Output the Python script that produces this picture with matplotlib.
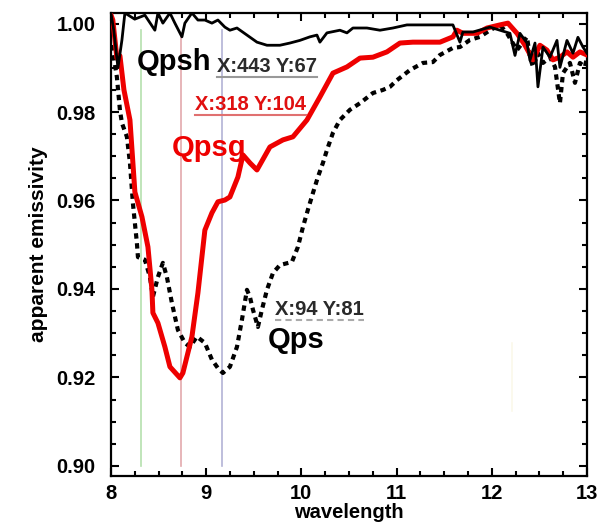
import matplotlib
matplotlib.use("Agg")
import matplotlib.pyplot as plt
from matplotlib.ticker import MultipleLocator, FormatStrFormatter
from matplotlib.lines import Line2D

plt.rcParams['font.family'] = ['Liberation Sans', 'DejaVu Sans']
plt.rcParams['font.weight'] = 'bold'

# Qpsg (red, thick solid)
qpsg_x = [8.00, 8.02, 8.063, 8.095, 8.137, 8.20, 8.252, 8.326, 8.389, 8.431, 8.441, 8.494,
          8.567, 8.62, 8.725, 8.756, 8.851, 8.914, 8.987, 9.061, 9.124, 9.197, 9.25, 9.334,
          9.387, 9.46, 9.534, 9.67, 9.807, 9.912, 10.059, 10.195, 10.332, 10.479, 10.616,
          10.752, 10.899, 11.036, 11.172, 11.319, 11.456, 11.592, 11.634, 11.697, 11.844,
          11.95, 12.086, 12.17, 12.265, 12.349, 12.433, 12.506, 12.58, 12.643, 12.716,
          12.79, 12.853, 12.926, 13.0]
qpsg_y = [1.002, 1.0008, 0.9922, 0.9927, 0.985, 0.9782, 0.9619, 0.9563, 0.9495, 0.9398,
          0.9346, 0.9323, 0.9269, 0.9224, 0.9199, 0.921, 0.9292, 0.9391, 0.9533, 0.9572,
          0.9597, 0.9601, 0.9608, 0.9653, 0.9703, 0.9685, 0.9669, 0.9721, 0.9737, 0.9744,
          0.9782, 0.9834, 0.9888, 0.9902, 0.9922, 0.9924, 0.9936, 0.9956, 0.9958, 0.9958,
          0.9958, 0.997, 0.9985, 0.9978, 0.9978, 0.999, 0.9997, 1.0001, 0.9978, 0.9951,
          0.9918, 0.9951, 0.994, 0.9918, 0.9924, 0.9936, 0.9924, 0.9936, 0.9929]

# Qpsh (black, thin solid)
qpsh_x = [8.0, 8.03, 8.074, 8.116, 8.147, 8.25, 8.357, 8.462, 8.494, 8.546, 8.62, 8.672,
          8.746, 8.777, 8.851, 8.914, 8.987, 9.061, 9.124, 9.197, 9.25, 9.324, 9.429, 9.534,
          9.639, 9.775, 9.88, 9.985, 10.09, 10.164, 10.195, 10.269, 10.405, 10.479, 10.542,
          10.689, 10.826, 10.962, 11.109, 11.246, 11.487, 11.592, 11.666, 11.697, 11.803,
          11.981, 12.086, 12.191, 12.244, 12.296, 12.37, 12.401, 12.454, 12.485, 12.538,
          12.611, 12.685, 12.716, 12.79, 12.853, 12.905, 12.958, 13.0]
qpsh_y = [1.0024, 0.9985, 0.990, 0.9963, 1.0024, 1.001, 1.0019, 0.9985, 1.0024, 1.0001,
          1.0024, 1.0001, 0.997, 1.0001, 1.0024, 1.0008, 1.0008, 1.0001, 1.0008, 0.9992,
          0.9985, 0.999, 0.9974, 0.9958, 0.9951, 0.9951, 0.9956, 0.9962, 0.997, 0.9974,
          0.9958, 0.9979, 0.9985, 0.9979, 0.999, 0.999, 0.9985, 0.999, 0.9997, 0.9997,
          0.9997, 0.9997, 0.9958, 0.9981, 0.9981, 0.9992, 0.9985, 0.9978, 0.9928, 0.9978,
          0.9956, 0.9917, 0.9956, 0.9857, 0.9947, 0.9924, 0.9962, 0.9901, 0.9962, 0.9933,
          0.9969, 0.9947, 0.9933]

# Qps (black, dotted)
qps_x = [8.01, 8.063, 8.095, 8.116, 8.168, 8.20, 8.231, 8.273, 8.284, 8.357, 8.41, 8.441,
         8.494, 8.546, 8.588, 8.641, 8.704, 8.777, 8.83, 8.903, 8.987, 9.061, 9.124, 9.176,
         9.25, 9.324, 9.376, 9.429, 9.46, 9.492, 9.544, 9.586, 9.639, 9.702, 9.775, 9.901,
         9.964, 10.017, 10.069, 10.122, 10.174, 10.227, 10.269, 10.332, 10.405, 10.51,
         10.616, 10.752, 10.857, 10.931, 11.004, 11.141, 11.277, 11.382, 11.456, 11.592,
         11.666, 11.771, 11.876, 11.981, 12.086, 12.16, 12.265, 12.37, 12.401, 12.433,
         12.485, 12.538, 12.611, 12.664, 12.716, 12.748, 12.821, 12.874, 12.926, 12.979, 13.0]
qps_y = [0.9951, 0.9879, 0.9804, 0.9775, 0.9744, 0.9685, 0.9594, 0.9504, 0.9472, 0.9466,
         0.9427, 0.9382, 0.9427, 0.9459, 0.9427, 0.9368, 0.9307, 0.9278, 0.9269, 0.9292,
         0.9278, 0.924, 0.9221, 0.921, 0.9224, 0.9269, 0.933, 0.9398, 0.9382, 0.9353,
         0.9314, 0.9353, 0.9398, 0.9436, 0.9454, 0.9461, 0.9495, 0.954, 0.9579, 0.9617,
         0.9653, 0.9685, 0.9714, 0.9753, 0.9782, 0.9805, 0.982, 0.9843, 0.985, 0.9857,
         0.9872, 0.9895, 0.9911, 0.9913, 0.9929, 0.9945, 0.9947, 0.9963, 0.997, 0.9985,
         0.9997, 0.9978, 0.994, 0.997, 0.9924, 0.9902, 0.9933, 0.9911, 0.9924, 0.9902,
         0.982, 0.9888, 0.9911, 0.9866, 0.9911, 0.9902, 0.9924]

# data-cursor lines
cursor_x = [8.32, 8.735, 9.17]
cursor_top = [0.9985, 0.997, 0.9985]
cursor_colors = ['#b5e0ae', '#e3a9ad', '#b3b3d6']

fig = plt.figure(figsize=(6.06, 5.25), dpi=100)
ax = fig.add_axes([0.183, 0.0933, 0.7856, 0.882])

for cx, ct, cc in zip(cursor_x, cursor_top, cursor_colors):
    ax.plot([cx, cx], [0.90, ct], color=cc, lw=1.2, zorder=1)
ax.plot([12.21, 12.21], [0.9124, 0.9278], color='#fbf8ea', lw=1.2, zorder=1)

ax.plot(qps_x, qps_y, color='black', lw=3.0, linestyle=(0, (1.3, 1.1)), zorder=2)
ax.plot(qpsg_x, qpsg_y, color='#ee0000', lw=3.6, zorder=3)
ax.plot(qpsh_x, qpsh_y, color='black', lw=2.0, zorder=4)

ax.set_xlim(8, 13)
ax.set_ylim(0.8977, 1.0024)
ax.xaxis.set_major_locator(MultipleLocator(1))
ax.xaxis.set_minor_locator(MultipleLocator(0.25))
ax.yaxis.set_major_locator(MultipleLocator(0.02))
ax.yaxis.set_minor_locator(MultipleLocator(0.005))
ax.yaxis.set_major_formatter(FormatStrFormatter('%.2f'))
ax.tick_params(which='both', direction='in', top=True, right=True, width=1.5)
ax.tick_params(which='major', length=6, labelsize=14.5)
ax.tick_params(axis='y', which='major', pad=11)
ax.tick_params(axis='x', which='major', pad=6)
ax.tick_params(which='minor', length=3.5)
for s in ax.spines.values():
    s.set_linewidth(1.6)

ax.set_xlabel('wavelength', fontsize=14.5, fontweight='bold', labelpad=0)
ax.set_ylabel('apparent emissivity', fontsize=15, fontweight='bold', labelpad=6)

ax.text(8.273, 0.9913, 'Qpsh', fontsize=21, fontweight='bold', color='black', va='center')
ax.text(8.641, 0.9719, 'Qpsg', fontsize=21, fontweight='bold', color='#ee0000', va='center')
ax.text(9.649, 0.9285, 'Qps', fontsize=21, fontweight='bold', color='black', va='center')

cursor_labels = [
    (9.113, 0.9902, 'X:443 Y:67', '#2a2a2a', '#999999', '-'),
    (8.882, 0.9818, 'X:318 Y:104', '#e01010', '#e07070', '-'),
    (9.723, 0.9353, 'X:94 Y:81', '#2a2a2a', '#aaaaaa', (0, (3, 2))),
]
labels = []
for lx, ly, txt, tc, uc, ls in cursor_labels:
    t = ax.text(lx, ly, txt, fontsize=14.5, fontweight='bold', color=tc, va='center')
    labels.append((t, uc, ls))

fig.canvas.draw()
for t, uc, ls in labels:
    bb = t.get_window_extent()
    yline = bb.y0 - 1
    fig.add_artist(Line2D([bb.x0, bb.x1], [yline, yline], transform=None,
                          color=uc, lw=1.5, linestyle=ls))

fig.savefig('out.png', dpi=100)
